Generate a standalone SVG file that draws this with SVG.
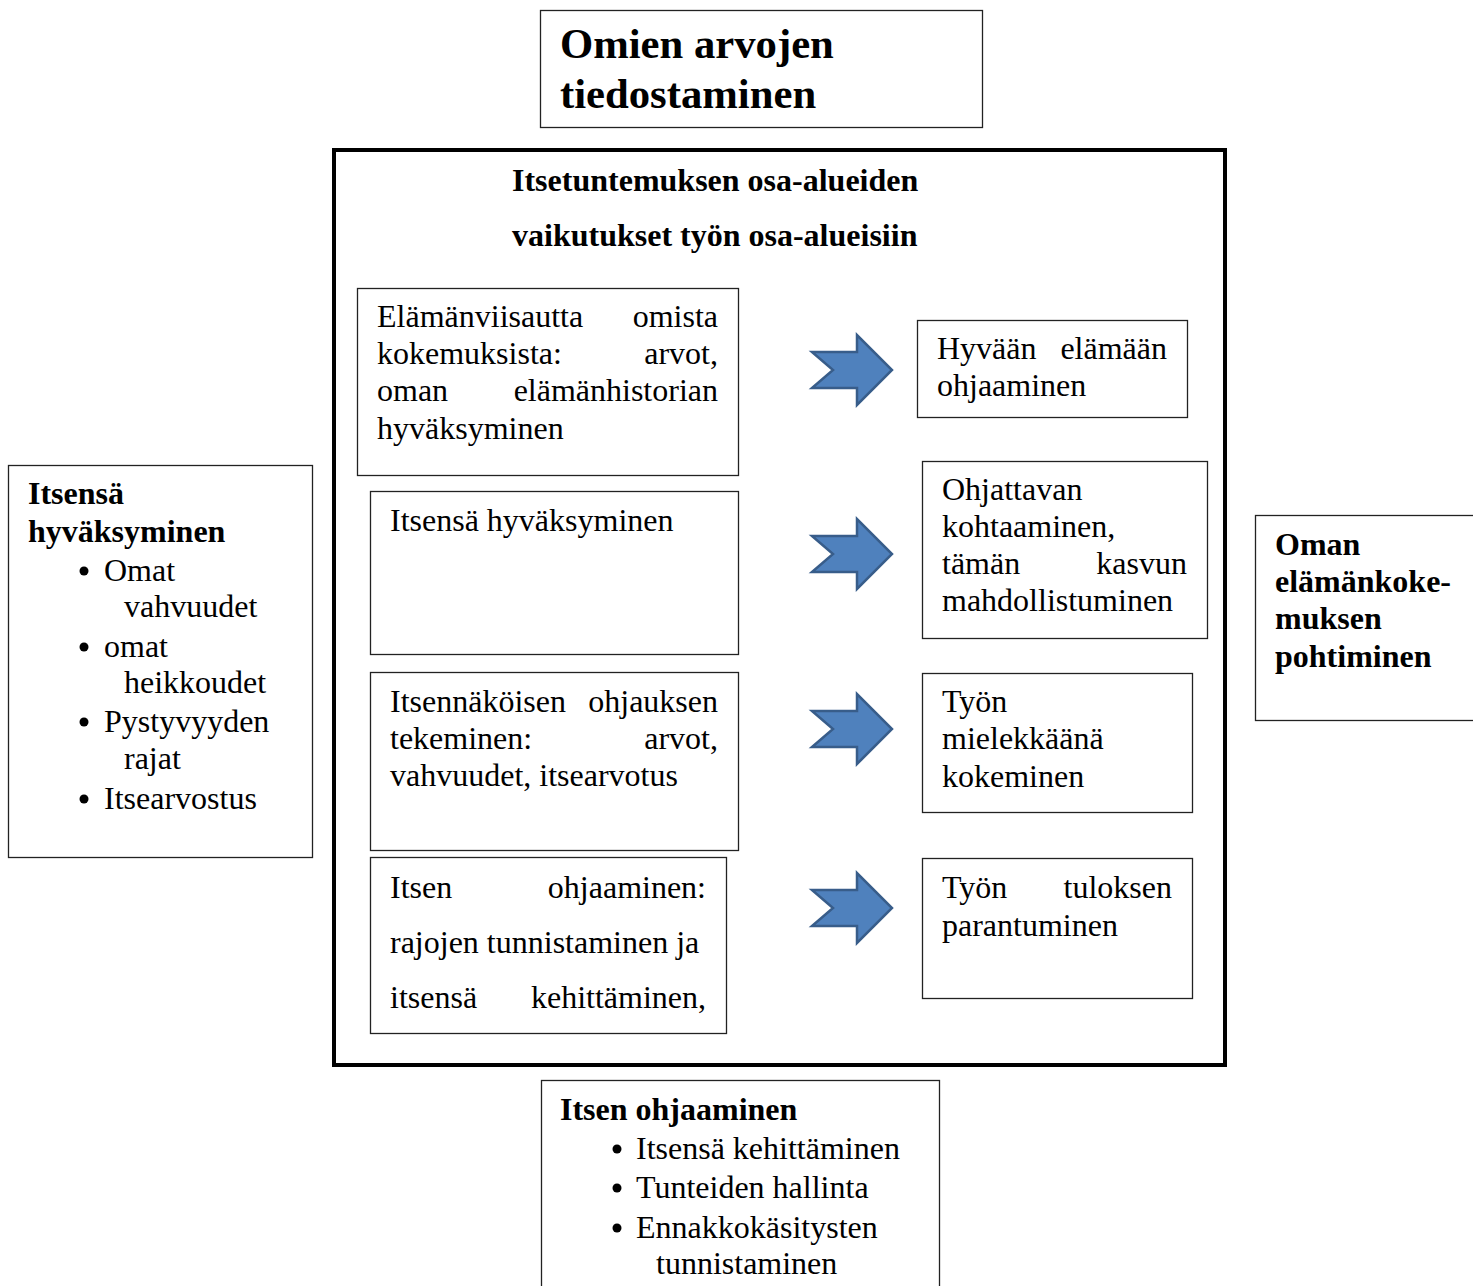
<svg xmlns="http://www.w3.org/2000/svg" width="1473" height="1286" viewBox="0 0 1473 1286">
<style>
.box{fill:#fff;stroke:#222;stroke-width:1.3}
.t{font-family:"Liberation Serif",serif;font-size:32px;fill:#000}
.b{font-family:"Liberation Serif",serif;font-size:32px;font-weight:bold;fill:#000}
.e{text-anchor:end}
.arr{fill:#4f81bd;stroke:#385d8a;stroke-width:2.5;stroke-linejoin:miter}
</style>
<defs>
<polygon id="arrow" class="arr" points="-38,-18 7,-18 7,-35 42,0 7,35 7,18 -38,18 -17,0"/>
</defs>
<rect width="1473" height="1286" fill="#fff"/>

<g id="top">
<rect class="box" x="540.5" y="10.5" width="442" height="117"/>
<text class="b" style="font-size:42.7px" x="560" y="58">Omien arvojen</text>
<text class="b" style="font-size:42.7px" x="560" y="108">tiedostaminen</text>
</g>

<g id="main">
<rect x="334" y="150" width="891" height="915" fill="#fff" stroke="#000" stroke-width="4"/>
<text class="b" x="512" y="191">Itsetuntemuksen osa-alueiden</text>
<text class="b" x="512" y="246">vaikutukset työn osa-alueisiin</text>
</g>

<g id="l1">
<rect class="box" x="357.5" y="288.5" width="381" height="187"/>
<text class="t" x="377" y="327">Elämänviisautta</text><text class="t e" x="718" y="327">omista</text>
<text class="t" x="377" y="364">kokemuksista:</text><text class="t e" x="718" y="364">arvot,</text>
<text class="t" x="377" y="401">oman</text><text class="t e" x="718" y="401">elämänhistorian</text>
<text class="t" x="377" y="439">hyväksyminen</text>
</g>

<g id="l2">
<rect class="box" x="370.5" y="491.5" width="368" height="163"/>
<text class="t" x="390" y="531">Itsensä hyväksyminen</text>
</g>

<g id="l3">
<rect class="box" x="370.5" y="672.5" width="368" height="178"/>
<text class="t" x="390" y="712">Itsennäköisen</text><text class="t e" x="718" y="712">ohjauksen</text>
<text class="t" x="390" y="749">tekeminen:</text><text class="t e" x="718" y="749">arvot,</text>
<text class="t" x="390" y="786">vahvuudet, itsearvotus</text>
</g>

<g id="l4">
<rect class="box" x="370.5" y="857.5" width="356" height="176"/>
<text class="t" x="390" y="898">Itsen</text><text class="t e" x="706" y="898">ohjaaminen:</text>
<text class="t" x="390" y="953">rajojen tunnistaminen ja</text>
<text class="t" x="390" y="1008">itsensä</text><text class="t e" x="706" y="1008">kehittäminen,</text>
</g>

<g id="r1">
<rect class="box" x="917.5" y="320.5" width="270" height="97"/>
<text class="t" x="937" y="359">Hyvään</text><text class="t e" x="1167" y="359">elämään</text>
<text class="t" x="937" y="396">ohjaaminen</text>
</g>

<g id="r2">
<rect class="box" x="922.5" y="461.5" width="285" height="177"/>
<text class="t" x="942" y="500">Ohjattavan</text>
<text class="t" x="942" y="537">kohtaaminen,</text>
<text class="t" x="942" y="574">tämän</text><text class="t e" x="1187" y="574">kasvun</text>
<text class="t" x="942" y="611">mahdollistuminen</text>
</g>

<g id="r3">
<rect class="box" x="922.5" y="673.5" width="270" height="139"/>
<text class="t" x="942" y="712">Työn</text>
<text class="t" x="942" y="749">mielekkäänä</text>
<text class="t" x="942" y="787">kokeminen</text>
</g>

<g id="r4">
<rect class="box" x="922.5" y="858.5" width="270" height="140"/>
<text class="t" x="942" y="898">Työn</text><text class="t e" x="1172" y="898">tuloksen</text>
<text class="t" x="942" y="936">parantuminen</text>
</g>

<g id="left">
<rect class="box" x="8.5" y="465.5" width="304" height="392"/>
<text class="b" x="28" y="504">Itsensä</text>
<text class="b" x="28" y="542">hyväksyminen</text>
<circle cx="84" cy="571" r="4.5"/><text class="t" x="104" y="581">Omat</text>
<text class="t" x="124" y="617">vahvuudet</text>
<circle cx="84" cy="647" r="4.5"/><text class="t" x="104" y="657">omat</text>
<text class="t" x="124" y="693">heikkoudet</text>
<circle cx="84" cy="722" r="4.5"/><text class="t" x="104" y="732">Pystyvyyden</text>
<text class="t" x="124" y="769">rajat</text>
<circle cx="84" cy="799" r="4.5"/><text class="t" x="104" y="809">Itsearvostus</text>
</g>

<g id="right">
<rect class="box" x="1255.5" y="515.5" width="230" height="205"/>
<text class="b" x="1275" y="555">Oman</text>
<text class="b" x="1275" y="592">elämänkoke-</text>
<text class="b" x="1275" y="629">muksen</text>
<text class="b" x="1275" y="667">pohtiminen</text>
</g>

<g id="bottom">
<rect class="box" x="541.5" y="1080.5" width="398" height="220"/>
<text class="b" x="560" y="1120">Itsen ohjaaminen</text>
<circle cx="617" cy="1149" r="4.5"/><text class="t" x="636" y="1159">Itsensä kehittäminen</text>
<circle cx="617" cy="1188" r="4.5"/><text class="t" x="636" y="1198">Tunteiden hallinta</text>
<circle cx="617" cy="1228" r="4.5"/><text class="t" x="636" y="1238">Ennakkokäsitysten</text>
<text class="t" x="656" y="1274">tunnistaminen</text>
</g>

<g id="connectors">
<use href="#arrow" x="850" y="370"/>
<use href="#arrow" x="850" y="554"/>
<use href="#arrow" x="850" y="729"/>
<use href="#arrow" x="850" y="908"/>
</g>
</svg>
